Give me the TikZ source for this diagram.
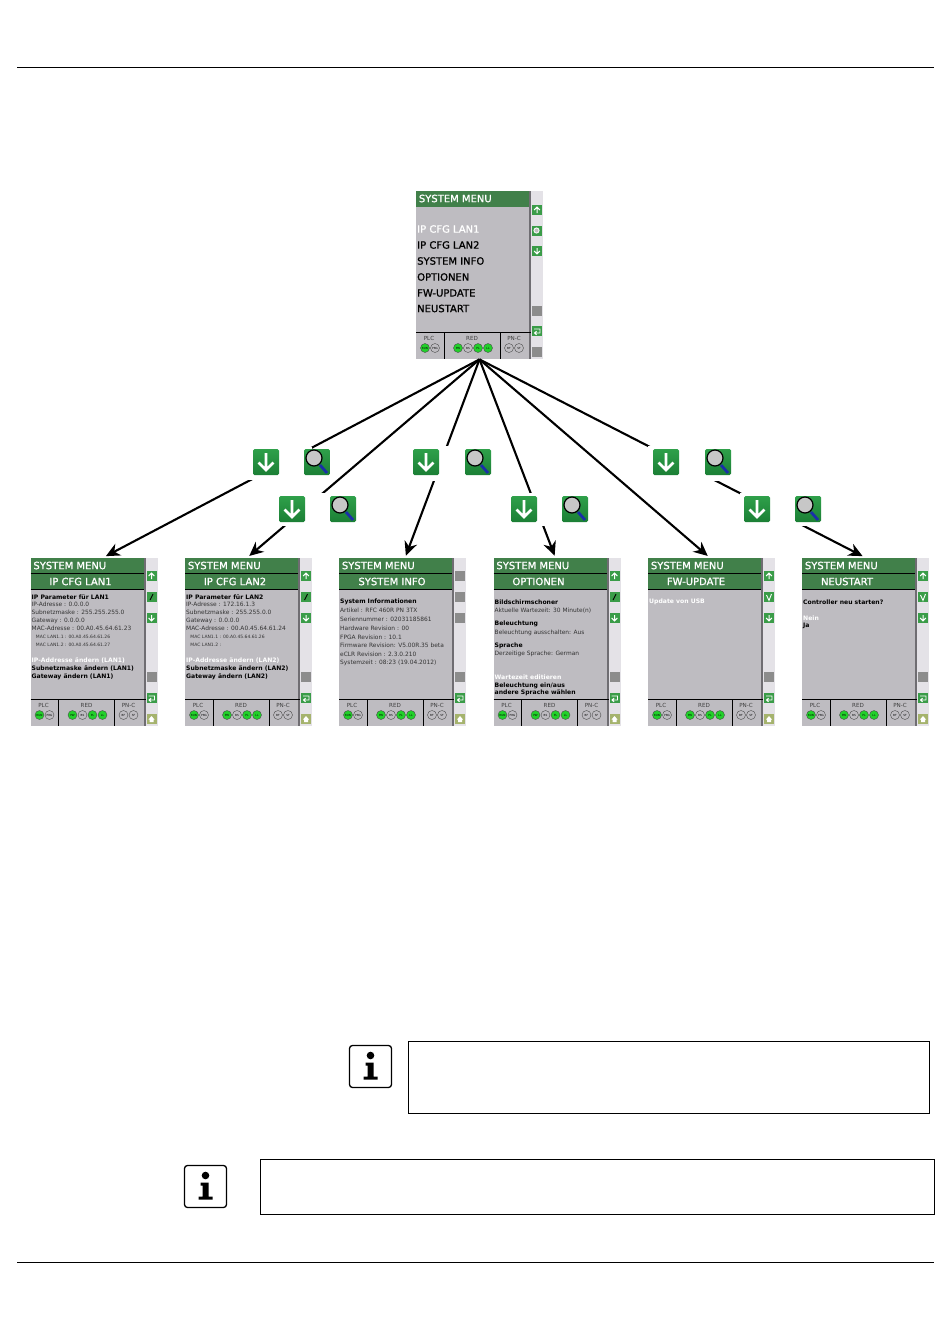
\documentclass[tikz,border=0pt]{standalone}
\usepackage{fontspec}
\setmainfont{DejaVu Sans}
\newfontface\menuface[FakeBold=1.1]{DejaVu Sans}
\usetikzlibrary{arrows.meta}
\usetikzlibrary{calc}
\definecolor{menugreen}{HTML}{41804A}
\definecolor{bodygray}{HTML}{BEBCC1}
\definecolor{stripgray}{HTML}{E4E2E7}
\definecolor{darkstrip}{HTML}{6F6D72}
\definecolor{iconGreen}{HTML}{3A9C48}
\definecolor{bigTop}{HTML}{2FA04A}
\definecolor{bigLow}{HTML}{1B7F35}
\definecolor{ledgreen}{HTML}{22D02A}
\definecolor{handleblue}{HTML}{1A2FA8}
\tikzset{
    screen node/.style={rectangle,fill=stripgray,inner sep=0pt,minimum width=127pt,minimum height=168pt},
    head text/.style={font=\menuface\fontsize{10}{11}\selectfont,text=white,inner sep=0pt},
    menu text/.style={anchor=west,font=\menuface\fontsize{10}{11}\selectfont,inner sep=0pt},
    plain text/.style={anchor=west,font=\fontsize{5.9}{6}\selectfont,text=black!80,inner sep=0pt},
    tiny text/.style={anchor=west,font=\fontsize{4.5}{5}\selectfont,text=black!80,inner sep=0pt},
    bold text/.style={anchor=west,font=\fontsize{6.1}{7}\selectfont\bfseries,inner sep=0pt},
    sel text/.style={anchor=west,font=\fontsize{6.1}{7}\selectfont\bfseries,text=white,inner sep=0pt},
    foot text/.style={font=\fontsize{5.6}{6}\selectfont,text=black!75,inner sep=0pt},
    led node/.style={circle,draw=black!70,line width=0.4pt,inner sep=0pt,minimum size=9pt,font=\fontsize{2.8}{3}\selectfont},
    side icon/.style={rectangle,fill=iconGreen,inner sep=0pt,minimum size=10pt},
    side gray/.style={rectangle,fill=black!45,inner sep=0pt,minimum size=10pt},
    big icon/.style={rectangle,rounded corners=1.5pt,top color=bigTop,bottom color=bigLow,inner sep=0pt,minimum size=26pt},
    text box/.style={rectangle,draw,line width=0.9pt,inner sep=0pt},
    info box/.style={rectangle,draw,rounded corners=3pt,line width=1.3pt,inner sep=0pt,minimum size=42pt},
    link/.style={draw,-{Stealth[length=14pt,width=13pt]},line width=2.1pt,shorten >=1pt}
}

% frame of one panel: name, left, top
\newcommand{\panelframe}[3]{
\begin{scope}[shift={(#2,#3)}]
    \node[screen node] (#1) at (63.5,84) {};
    \fill[bodygray] (0,0) rectangle (113,168);
    \fill[menugreen] (0,0) rectangle (113,15.5);
    \fill[darkstrip] (113,0) rectangle (115,168);
    \draw[line width=0.8pt] (0,141.5) -- (115,141.5);
    \draw[line width=0.5pt] (28,141.5) -- (28,168) (84,141.5) -- (84,168);
    \node[head text,anchor=west] (#1-head) at (2.5,7.5) {SYSTEM MENU};
    \node[foot text] (#1-plc) at (13,147.5) {PLC};
    \node[foot text] (#1-red) at (56,147.5) {RED};
    \node[foot text] (#1-pnc) at (98,147.5) {PN-C};
    \foreach \lx/\lfill/\ltxt [count=\i] in {9/ledgreen/RUN,19/bodygray/PRG,42/ledgreen/PW,52/bodygray/BS,62/ledgreen/PL,72/ledgreen/LL,93/bodygray/BF,103/bodygray/SF}
        \node[led node,fill=\lfill] (#1-led\i) at (\lx,157) {\ltxt};
\end{scope}
}
% second headline and text lines of a lower panel: name, left, headline x, title, lines
\newcommand{\paneltext}[5]{
\begin{scope}[shift={(#2,558)}]
    \draw[line width=0.5pt] (0,15) -- (113,15);
    \fill[menugreen] (0,15.5) rectangle (113,31);
    \draw[line width=0.5pt] (0,31) -- (113,31);
    \node[head text] (#1-title) at (#3,23.5) {#4};
    \foreach \ly/\lsty/\ltxt [count=\i] in {#5}
        \node[\lsty] (#1-line\i) at (0.8,\ly) {\ltxt};
\end{scope}
}
% small white glyphs of the side strip: x, y
\newcommand{\glyphup}[2]{\draw[white,line width=1pt] (#1,#2+3) -- (#1,#2-2) (#1-2.8,#2) -- (#1,#2-3) -- (#1+2.8,#2);}
\newcommand{\glyphdown}[2]{\draw[white,line width=1pt] (#1,#2-3) -- (#1,#2+2) (#1-2.8,#2) -- (#1,#2+3) -- (#1+2.8,#2);}
\newcommand{\glyphback}[2]{\draw[white,line width=0.9pt] (#1-3,#2-2) -- (#1+3,#2-2) -- (#1+3,#2+2) -- (#1-2,#2+2) (#1-0.5,#2+0.2) -- (#1-2.5,#2+2) -- (#1-0.5,#2+3.8);}
% side strip of a lower panel: name, left, second icon (pencil or check), gray
\newcommand{\sidestrip}[3]{
\begin{scope}[shift={(#2,0)}]
    \node[side icon] (#1-up) at (121,576) {}; \glyphup{121}{576}
    \node[side icon] (#1-edit) at (121,597) {};
    #3
    \node[side icon] (#1-down) at (121,618) {}; \glyphdown{121}{618}
    \node[side gray] (#1-bar) at (121,677) {};
    \node[side icon] (#1-back) at (121,698) {}; \glyphback{121}{698}
    \node[side icon,fill=orange!35!iconGreen!70!white] (#1-home) at (121,719) {};
    \fill[white] (118,719.5) -- (121,716) -- (124,719.5) -- (123,719.5) -- (123,722) -- (119,722) -- (119,719.5) -- cycle;
\end{scope}
}
\newcommand{\glyphpencil}{\draw[black,line width=0.9pt] (119.5,600) -- (122.5,594);}
\newcommand{\glyphcheck}{\draw[white,line width=0.9pt] (118.5,595) -- (121,600.5) -- (123.5,594);}
% large icons: name, x, y
\newcommand{\bigdown}[3]{
    \node[big icon] (#1) at (#2,#3) {};
    \draw[white,line width=2.6pt] (#2,#3-9) -- (#2,#3+7) (#2-7.5,#3+0.5) -- (#2,#3+8) -- (#2+7.5,#3+0.5);
}
\newcommand{\bigloupe}[3]{
    \node[big icon] (#1) at (#2,#3) {};
    \draw[handleblue,line width=2.8pt] (#2+3,#3+3) -- (#2+10,#3+11);
    \draw[black,line width=1.2pt,fill=black!22] (#2-3,#3-4) circle (8);
}
% info sign: name, x, y
\newcommand{\infosign}[3]{
    \node[info box] (#1) at (#2,#3) {};
    \fill (#2,#3-11) circle (3.8);
    \fill (#2-5,#3-4) -- (#2+3,#3-4) -- (#2+3,#3+10) -- (#2+7,#3+10) -- (#2+7,#3+13) -- (#2-7,#3+13) -- (#2-7,#3+10) -- (#2-3,#3+10) -- (#2-3,#3-1) -- (#2-5,#3-1) -- cycle;
}

\begin{document}
\begin{tikzpicture}[x=1pt,y=-1pt,thick]
    \useasboundingbox (0,0) rectangle (950,1323);

    \coordinate (rule-a-left) at (17,67);
    \coordinate (rule-a-right) at (934,67);
    \coordinate (rule-b-left) at (17,1262);
    \coordinate (rule-b-right) at (934,1262);
    \draw[line width=0.7pt] (rule-a-left) -- (rule-a-right);
    \draw[line width=0.7pt] (rule-b-left) -- (rule-b-right);

    % top panel
    \panelframe{sysmenu}{416}{191}
    \begin{scope}[shift={(416,191)}]
        \foreach \ly/\lcol/\ltxt [count=\i] in {38/white/IP CFG LAN1,54/black/IP CFG LAN2,70/black/SYSTEM INFO,86/black/OPTIONEN,102/black/FW-UPDATE,117.5/black/NEUSTART}
            \node[menu text,text=\lcol] (sysmenu-line\i) at (0.8,\ly) {\ltxt};
        \node[side icon] (sysmenu-up) at (121,19) {}; \glyphup{121}{19}
        \node[side icon] (sysmenu-find) at (121,40) {};
        \draw[white,line width=0.8pt,fill=black!25] (120.5,39.5) circle (2.6);
        \node[side icon] (sysmenu-down) at (121,60) {}; \glyphdown{121}{60}
        \node[side gray] (sysmenu-bar) at (121,120) {};
        \node[side icon] (sysmenu-back) at (121,140) {}; \glyphback{121}{140}
        \node[side gray] (sysmenu-end) at (121,161) {};
    \end{scope}

    % lower panels
    \panelframe{lan1}{30.5}{558}
    \paneltext{lan1}{30.5}{50}{IP CFG LAN1}{39/bold text/IP Parameter für LAN1,46.5/plain text/IP-Adresse :  0.0.0.0,54.5/plain text/Subnetzmaske :  255.255.255.0,62.5/plain text/Gateway :  0.0.0.0,70.5/plain text/MAC-Adresse : 00.A0.45.64.61.23,78.5/tiny text/\ \ \ MAC LAN1.1 : 00.A0.45.64.61.26,86.5/tiny text/\ \ \ MAC LAN1.2 : 00.A0.45.64.61.27,102.5/sel text/IP-Addresse ändern (LAN1),110.5/bold text/Subnetzmaske ändern (LAN1),119/bold text/Gateway ändern (LAN1)}
    \sidestrip{lan1}{30.5}{\glyphpencil}

    \panelframe{lan2}{185}{558}
    \paneltext{lan2}{185}{50}{IP CFG LAN2}{39/bold text/IP Parameter für LAN2,46.5/plain text/IP-Adresse :  172.16.1.3,54.5/plain text/Subnetzmaske :  255.255.0.0,62.5/plain text/Gateway :  0.0.0.0,70.5/plain text/MAC-Adresse : 00.A0.45.64.61.24,78.5/tiny text/\ \ \ MAC LAN1.1 : 00.A0.45.64.61.26,86.5/tiny text/\ \ \ MAC LAN1.2 :,102.5/sel text/IP-Addresse ändern (LAN2),110.5/bold text/Subnetzmaske ändern (LAN2),119/bold text/Gateway ändern (LAN2)}
    \sidestrip{lan2}{185}{\glyphpencil}

    \panelframe{sysinfo}{339}{558}
    \paneltext{sysinfo}{339}{53}{SYSTEM INFO}{44/bold text/System Informationen,52.5/plain text/Artikel :  RFC 460R PN 3TX,61.5/plain text/Seriennummer :  02031185861,70/plain text/Hardware Revision :  00,79/plain text/FPGA Revision :  10.1,87.5/plain text/Firmware Revision: V5.00R.35 beta,96/plain text/eCLR Revision : 2.3.0.210,105/plain text/Systemzeit : 08:23 (19.04.2012)}
    \begin{scope}[shift={(339,0)}]
        \node[side gray] (sysinfo-top) at (121,576) {};
        \node[side gray] (sysinfo-mid) at (121,597) {};
        \node[side gray] (sysinfo-low) at (121,618) {};
        \node[side gray] (sysinfo-bar) at (121,677) {};
        \node[side icon] (sysinfo-back) at (121,698) {}; \glyphback{121}{698}
        \node[side icon,fill=orange!35!iconGreen!70!white] (sysinfo-home) at (121,719) {};
        \fill[white] (118,719.5) -- (121,716) -- (124,719.5) -- (123,719.5) -- (123,722) -- (119,722) -- (119,719.5) -- cycle;
    \end{scope}

    \panelframe{optionen}{493.5}{558}
    \paneltext{optionen}{493.5}{45}{OPTIONEN}{44.5/bold text/Bildschirmschoner,52.5/plain text/Aktuelle Wartezeit:  30 Minute(n),66/bold text/Beleuchtung,74.5/plain text/Beleuchtung ausschalten: Aus,87.5/bold text/Sprache,95.5/plain text/Derzeitige Sprache: German,119/sel text/Wartezeit editieren,127.5/bold text/{Beleuchtung ein/aus},135/bold text/andere Sprache wählen}
    \sidestrip{optionen}{493.5}{\glyphpencil}

    \panelframe{fwupdate}{648}{558}
    \paneltext{fwupdate}{648}{48}{FW-UPDATE}{44/sel text/Update von USB}
    \sidestrip{fwupdate}{648}{\glyphcheck}

    \panelframe{neustart}{802}{558}
    \paneltext{neustart}{802}{45}{NEUSTART}{44/bold text/Controller neu starten?,60/sel text/Nein,68/bold text/Ja}
    \sidestrip{neustart}{802}{\glyphcheck}

    % connectors
    \path[link] (sysmenu.south) -- ($ (lan1.north) + (11,-1) $);
    \path[link] (sysmenu.south) -- ($ (lan2.north) + (0,-1) $);
    \path[link] (sysmenu.south) -- ($ (sysinfo.north) + (3,-1) $);
    \path[link] (sysmenu.south) -- ($ (optionen.north) + (-2,-1) $);
    \path[link] (sysmenu.south) -- ($ (fwupdate.north) + (-3,-1) $);
    \path[link] (sysmenu.south) -- ($ (neustart.north) + (-2,-1) $);

    % white fields behind the icons
    \foreach \xa/\ya/\xb/\yb in {245/447/312/480,275/493/358/526,410/446/495/481,508/493/590/526,648/446/735/481,740/493/825/526}
        \fill[white] (\xa,\ya) rectangle (\xb,\yb);

    \bigdown{down-a}{266}{462}
    \bigloupe{find-a}{317}{462}
    \bigdown{down-b}{292}{509}
    \bigloupe{find-b}{343}{509}
    \bigdown{down-c}{426}{462}
    \bigloupe{find-c}{478}{462}
    \bigdown{down-d}{524}{509}
    \bigloupe{find-d}{575}{509}
    \bigdown{down-e}{666}{462}
    \bigloupe{find-e}{718}{462}
    \bigdown{down-f}{757}{509}
    \bigloupe{find-f}{808}{509}

    % notes
    \infosign{info-a}{370.5}{1066.5}
    \infosign{info-b}{205.5}{1186.5}
    \node[text box,minimum width=521pt,minimum height=72pt] (note-a) at (668.5,1077) {};
    \node[text box,minimum width=674pt,minimum height=55pt] (note-b) at (597,1186.5) {};
\end{tikzpicture}
\end{document}
